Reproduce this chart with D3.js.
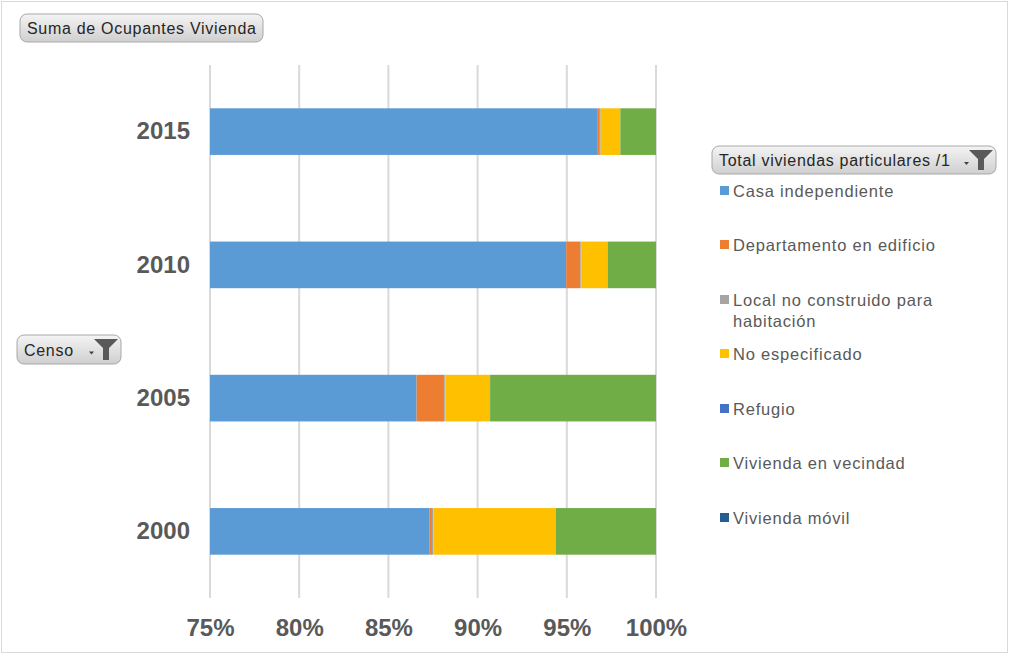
<!DOCTYPE html>
<html>
<head>
<meta charset="utf-8">
<script src="https://cdn.jsdelivr.net/npm/d3@7"></script>
<style>
  body { margin: 0; background: #fff; }
  svg { display: block; }
</style>
</head>
<body>
<svg id="chart" width="1010" height="655"></svg>
<script>
// Censos (top to bottom)
const censos = ["2015", "2010", "2005", "2000"];

// Tipos de vivienda (stack order, left to right)
const tipos = [
  "Casa independiente",
  "Departamento en edificio",
  "Local no construido para habitación",
  "No especificado",
  "Refugio",
  "Vivienda en vecindad",
  "Vivienda móvil"
];

// Percent share of occupants by housing type, one array per type (2015, 2010, 2005, 2000)
const casaIndependiente     = [96.70, 94.97, 86.58, 87.29];
const departamentoEdificio  = [0.15, 0.79, 1.55, 0.15];
const localNoConstruido     = [0.05, 0.07, 0.07, 0.08];
const noEspecificado        = [1.10, 1.46, 2.50, 6.86];
const refugio               = [0.00, 0.00, 0.00, 0.00];
const viviendaVecindad      = [2.00, 2.71, 9.30, 5.62];
const viviendaMovil         = [0.00, 0.00, 0.00, 0.00];

const seriesValues = [
  casaIndependiente, departamentoEdificio, localNoConstruido,
  noEspecificado, refugio, viviendaVecindad, viviendaMovil
];

const tickValues = [75, 80, 85, 90, 95, 100];
const tickLabels = ["75%", "80%", "85%", "90%", "95%", "100%"];

const colors = ["#5B9BD5", "#ED7D31", "#A5A5A5", "#FFC000", "#4472C4", "#70AD47", "#255E91"];

const svg = d3.select("#chart");

// Chart frame
svg.append("rect")
  .attr("x", 1.5).attr("y", 1.5).attr("width", 1006).attr("height", 651)
  .attr("fill", "#fff").attr("stroke", "#d9d9d9").attr("stroke-width", 1);

// Gradient used by the pivot field buttons
const defs = svg.append("defs");
const grad = defs.append("linearGradient").attr("id", "btnGrad")
  .attr("x1", 0).attr("y1", 0).attr("x2", 0).attr("y2", 1);
grad.append("stop").attr("offset", "0%").attr("stop-color", "#f4f4f4");
grad.append("stop").attr("offset", "100%").attr("stop-color", "#cfcfcf");

const x = d3.scaleLinear().domain([75, 100]).range([210, 656]);
const y = d3.scaleBand().domain(censos).range([65, 598]).paddingInner(0.65).paddingOuter(0.325);

// Build stacked table
const table = censos.map((c, i) => {
  const row = { censo: c };
  tipos.forEach((t, j) => row[t] = seriesValues[j][i]);
  return row;
});
const stacked = d3.stack().keys(tipos)(table);

// Gridlines
svg.append("g")
  .selectAll("line")
  .data(tickValues)
  .join("line")
  .attr("x1", d => x(d)).attr("x2", d => x(d))
  .attr("y1", 65).attr("y2", 598)
  .attr("stroke", "#d9d9d9").attr("stroke-width", 2);

// Bars, clipped to the visible axis range
defs.append("clipPath").attr("id", "plotClip")
  .append("rect").attr("x", x(75)).attr("y", 0).attr("width", x(100) - x(75)).attr("height", 655);

svg.append("g").attr("clip-path", "url(#plotClip)")
  .selectAll("g")
  .data(stacked)
  .join("g")
  .attr("fill", (d, i) => colors[i])
  .selectAll("rect")
  .data(d => d)
  .join("rect")
  .attr("x", d => x(d[0]))
  .attr("width", d => Math.max(0, x(d[1]) - x(d[0])))
  .attr("y", d => y(d.data.censo))
  .attr("height", y.bandwidth());

// X axis labels
const xAxis = d3.axisBottom(x).tickValues(tickValues)
  .tickFormat((d, i) => tickLabels[i]).tickSize(0).tickPadding(0);
const gx = svg.append("g").attr("transform", "translate(0,619)").call(xAxis);
gx.select(".domain").remove();
gx.selectAll("text")
  .attr("font-family", "Liberation Sans, Arial, sans-serif")
  .attr("font-size", 24).attr("font-weight", "bold").attr("fill", "#595959");

// Y axis labels
const yAxis = d3.axisLeft(y).tickSize(0).tickPadding(0);
const gy = svg.append("g").attr("transform", "translate(190,0)").call(yAxis);
gy.select(".domain").remove();
gy.selectAll("text")
  .attr("font-family", "Liberation Sans, Arial, sans-serif")
  .attr("font-size", 24).attr("font-weight", "bold").attr("fill", "#595959");

// Pivot field button helper
function fieldButton(xp, yp, w, h, label, withFilter) {
  const g = svg.append("g").attr("transform", `translate(${xp},${yp})`);
  g.append("rect").attr("width", w).attr("height", h).attr("rx", 7)
    .attr("fill", "url(#btnGrad)").attr("stroke", "#a8a8a8");
  g.append("text").attr("x", 7).attr("y", h / 2 + 6)
    .attr("font-family", "Liberation Sans, Arial, sans-serif")
    .attr("font-size", 16).attr("letter-spacing", 0.7)
    .attr("fill", "#262626").text(label);
  if (withFilter) {
    const fx = w - 28;
    g.append("path")
      .attr("d", `M${fx - 4},${h / 2 + 2} l5,0 l-2.5,3 z`)
      .attr("fill", "#404040");
    g.append("path")
      .attr("d", `M${fx + 1},${4} L${fx + 25},${4} L${fx + 16},${13} L${fx + 16},${h - 4} L${fx + 10},${h - 4} L${fx + 10},${13} Z`)
      .attr("fill", "#595959");
  }
}

fieldButton(20, 14, 243, 28, "Suma de Ocupantes Vivienda", false);
fieldButton(17, 335, 104, 29, "Censo", true);
fieldButton(712, 146, 284, 28, "Total viviendas particulares /1", true);

// Legend
const legendItems = [
  { lines: ["Casa independiente"], y: 191 },
  { lines: ["Departamento en edificio"], y: 245 },
  { lines: ["Local no construido para", "habitación"], y: 300 },
  { lines: ["No especificado"], y: 354 },
  { lines: ["Refugio"], y: 409 },
  { lines: ["Vivienda en vecindad"], y: 463 },
  { lines: ["Vivienda móvil"], y: 518 }
];
const legend = svg.append("g");
legendItems.forEach((item, i) => {
  legend.append("rect").attr("x", 720).attr("y", item.y - 5)
    .attr("width", 9).attr("height", 9).attr("fill", colors[i]);
  const t = legend.append("text")
    .attr("font-family", "Liberation Sans, Arial, sans-serif")
    .attr("font-size", 16.5).attr("letter-spacing", 0.8).attr("fill", "#595959");
  item.lines.forEach((ln, k) => {
    t.append("tspan").attr("x", 733).attr("y", item.y + 6 + k * 21).text(ln);
  });
});
</script>
</body>
</html>
